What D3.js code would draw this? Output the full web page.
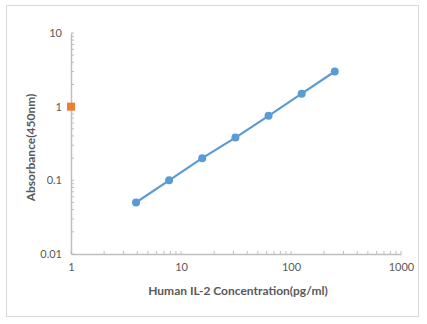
<!DOCTYPE html>
<html>
<head>
<meta charset="utf-8">
<script src="https://cdn.jsdelivr.net/npm/d3@7"></script>
<style>
  html, body { margin: 0; padding: 0; background: #fff; }
  svg { display: block; }
</style>
</head>
<body>
<svg id="chart" width="427" height="324"></svg>
<script>
// Standard curve: concentration (pg/ml) vs. absorbance at 450 nm
const concentrations = [3.9, 7.8, 15.6, 31.25, 62.5, 125, 250];
const absorbance = [0.05, 0.1, 0.2, 0.38, 0.75, 1.5, 3.0];
// Second series: single marker
const markerX = [1];
const markerY = [1];
const xTickLabels = [1, 10, 100, 1000];
const yTickLabels = [0.01, 0.1, 1, 10];

(function draw() {
  const svg = d3.select("#chart");
  const font = "Lato, 'Open Sans', 'Liberation Sans', sans-serif";

  // Chart frame
  svg.append("rect")
    .attr("x", 6.5).attr("y", 5.5)
    .attr("width", 412).attr("height", 311)
    .attr("fill", "#fff").attr("stroke", "#d9d9d9").attr("stroke-width", 1);

  const m = { left: 71, right: 401, top: 33, bottom: 254 };
  const x = d3.scaleLog().domain([1, 1000]).range([m.left, m.right]);
  const y = d3.scaleLog().domain([0.01, 10]).range([m.bottom, m.top]);

  const axisColor = "#bfbfbf";
  const textColor = "#595959";

  // Minor ticks at 1..9 x 10^k
  const minor = (lo, hi) => {
    const out = [];
    for (let e = Math.round(Math.log10(lo)); e < Math.round(Math.log10(hi)); e++) {
      for (let k = 1; k <= 9; k++) out.push(k * Math.pow(10, e));
    }
    out.push(hi);
    return out;
  };

  // X axis
  const gx = svg.append("g").attr("transform", `translate(0,${m.bottom})`);
  gx.call(d3.axisBottom(x).tickValues(xTickLabels).tickSize(0).tickFormat(d3.format("d")).tickPadding(9));
  gx.select(".domain").attr("stroke", axisColor).attr("stroke-width", 1.5);
  gx.selectAll("text").attr("fill", textColor).style("font-family", font).style("font-size", "11px");
  gx.selectAll(".minor").data(minor(1, 1000)).enter().append("line")
    .attr("class", "minor")
    .attr("x1", d => x(d)).attr("x2", d => x(d))
    .attr("y1", 0).attr("y2", -3)
    .attr("stroke", axisColor).attr("stroke-width", 1);

  // Y axis
  const gy = svg.append("g").attr("transform", `translate(${m.left},0)`);
  gy.call(d3.axisLeft(y).tickValues(yTickLabels).tickSize(0).tickFormat(d => String(d)).tickPadding(9));
  gy.select(".domain").attr("stroke", axisColor).attr("stroke-width", 1.5);
  gy.selectAll("text").attr("fill", textColor).style("font-family", font).style("font-size", "11px");
  gy.selectAll(".minor").data(minor(0.01, 10)).enter().append("line")
    .attr("class", "minor")
    .attr("y1", d => y(d)).attr("y2", d => y(d))
    .attr("x1", 0).attr("x2", 3)
    .attr("stroke", axisColor).attr("stroke-width", 1);

  // Axis titles
  svg.append("text")
    .attr("x", (m.left + m.right) / 2 + 2).attr("y", 295)
    .attr("text-anchor", "middle")
    .attr("fill", textColor)
    .style("font-family", font).style("font-size", "12px").style("font-weight", "bold")
    .text("Human IL-2 Concentration(pg/ml)");

  svg.append("text")
    .attr("transform", `translate(35,${(m.top + m.bottom) / 2 + 4}) rotate(-90)`)
    .attr("text-anchor", "middle")
    .attr("fill", textColor)
    .style("font-family", font).style("font-size", "12px").style("font-weight", "bold")
    .text("Absorbance(450nm)");

  // Curve
  const pts = concentrations.map((c, i) => [c, absorbance[i]]);
  svg.append("path")
    .datum(pts)
    .attr("fill", "none")
    .attr("stroke", "#5b9bd5")
    .attr("stroke-width", 2.2)
    .attr("d", d3.line().x(d => x(d[0])).y(d => y(d[1])));

  svg.selectAll(".pt").data(pts).enter().append("circle")
    .attr("class", "pt")
    .attr("cx", d => x(d[0])).attr("cy", d => y(d[1]))
    .attr("r", 4)
    .attr("fill", "#5b9bd5");

  // Square marker series
  svg.selectAll(".sq").data(markerX.map((v, i) => [v, markerY[i]])).enter().append("rect")
    .attr("class", "sq")
    .attr("x", d => x(d[0]) - 4).attr("y", d => y(d[1]) - 4)
    .attr("width", 8).attr("height", 8)
    .attr("fill", "#ed7d31");
})();
</script>
</body>
</html>
